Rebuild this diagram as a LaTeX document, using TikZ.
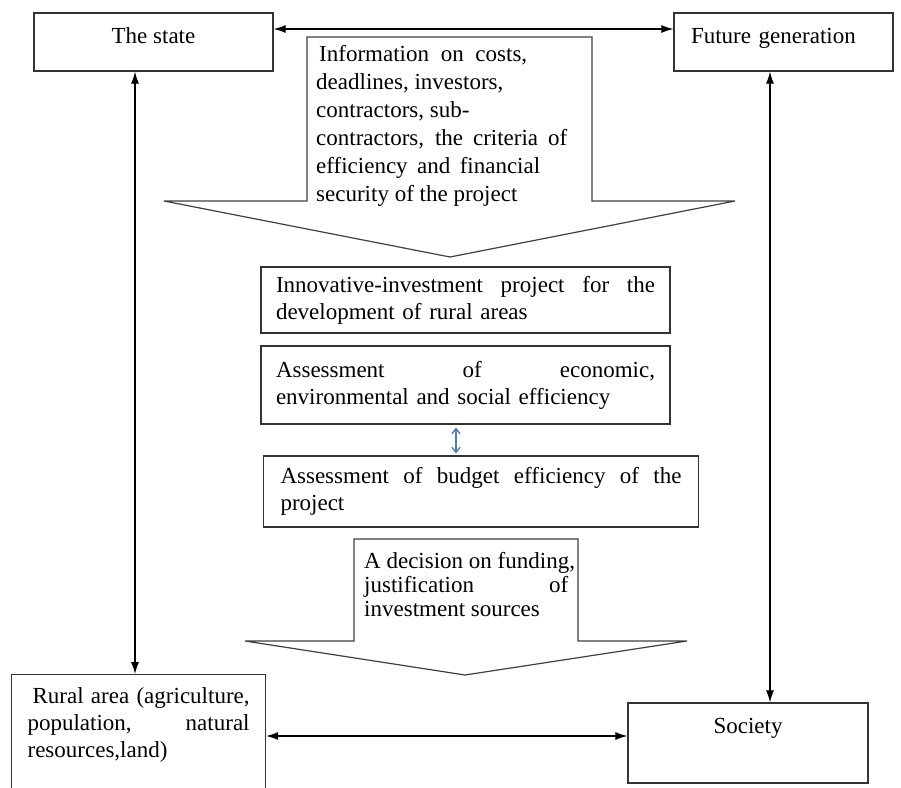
\documentclass[tikz,border=0pt]{standalone}
\usepackage{fontspec}
\setmainfont{Liberation Serif}
\usetikzlibrary{arrows.meta,positioning}

\newcommand{\jline}[2]{{\spaceskip=0pt\xspaceskip=0pt\makebox[#1][s]{#2}}}
\definecolor{linkblue}{RGB}{74,126,187}

\tikzset{
    box/.style={rectangle, draw=black!80, line width=1.2pt, inner sep=0pt, font=\fontsize{23}{27}\selectfont},
    link/.style={{Latex[length=12pt,width=8pt]}-{Latex[length=12pt,width=8pt]}, line width=1.1pt},
    callout/.style={draw=black!75, line width=1.2pt, fill=white},
}

\begin{document}
\begin{tikzpicture}[x=1pt, y=-1pt]
    \clip (0,0) rectangle (901,787);

    \node[box, minimum width=239, minimum height=58, text height=16, text depth=14] (state) at (153.5,42) {The state};
    \node[box, minimum height=58, text width=185, inner xsep=17, align=left, text height=16, text depth=14] (future) at (783.5,42) {Future generation};

    % information callout
    \draw[callout] (307,37) -- (592,37) -- (592,201) -- (735,201) -- (450,257) -- (164,201) -- (307,201) -- cycle;
    \node[anchor=north west, inner sep=0pt, align=left, font=\fontsize{23}{28}\selectfont] (info) at (316,45)
        {\hspace*{3pt}\jline{208pt}{Information on costs,}\\ deadlines, investors,\\ contractors, sub-\\ \jline{251pt}{contractors, the criteria of}\\ \jline{224pt}{efficiency and financial}\\ security of the project};

    \node[box, text width=379, inner xsep=15, minimum height=66, align=left] (project) at (465.5,300)
        {\jline{379pt}{Innovative-investment project for the}\\ development of rural areas};
    \node[box, text width=379, inner xsep=15, minimum height=78, align=left] (econ) at (465.5,385)
        {\jline{379pt}{Assessment of economic,}\\ environmental and social efficiency};
    \node[box, text width=401, inner xsep=17, minimum height=71, align=left] (budget) at (481,491.5)
        {\jline{401pt}{Assessment of budget efficiency of the}\\ project};

    % decision callout
    \draw[callout] (354,539) -- (578,539) -- (578,641) -- (687,641) -- (465,675) -- (245,641) -- (354,641) -- cycle;
    \node[anchor=north west, inner sep=0pt, align=left, font=\fontsize{23}{24}\selectfont] (decision) at (364,552)
        {A decision on funding,\\ \jline{204pt}{justification of}\\ investment sources};

    \node[box, anchor=north west, text width=222, inner xsep=16, inner ysep=13, text depth=110, align=left] (rural) at (11,674)
        {\hspace*{5pt}\jline{217pt}{Rural area (agriculture,}\\ \jline{222pt}{population, natural}\\ resources,land)};
    \node[box, minimum width=240, minimum height=80, text height=16, text depth=36] (society) at (748,743) {Society};

    \coordinate (ty) at (0,29);
    \coordinate (sx) at (135,0);
    \coordinate (fx) at (770,0);
    \coordinate (ry) at (0,736);
    \coordinate (bx) at (456,0);

    \draw[link] (state.east |- ty) -- (future.west |- ty);
    \draw[link] (sx |- state.south) -- (sx |- rural.north);
    \draw[link] (fx |- future.south) -- (fx |- society.north);
    \draw[link] (rural.east |- ry) -- (society.west |- ry);
    \draw[{Straight Barb[length=5pt,width=8pt]}-{Straight Barb[length=5pt,width=8pt]}, linkblue, line width=1.4pt, shorten <=3pt, shorten >=2pt]
        (bx |- econ.south) -- (bx |- budget.north);
\end{tikzpicture}
\end{document}
